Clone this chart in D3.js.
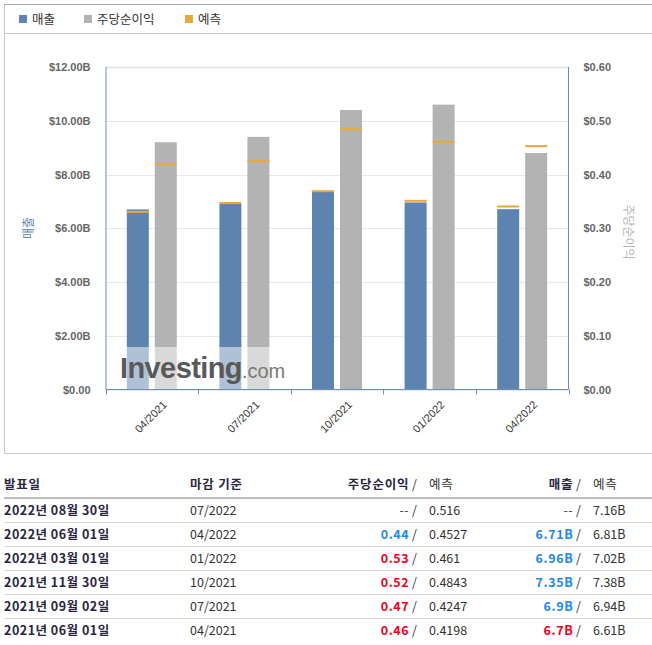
<!DOCTYPE html>
<html>
<head>
<meta charset="utf-8">
<script src="https://cdn.jsdelivr.net/npm/d3@7"></script>
<style>
  body { margin: 0; background: #fff; }
  svg { display: block; }
</style>
</head>
<body>
<svg id="chart" width="652" height="645"></svg>
<script>
// chart data (quarter end, revenue in $B, EPS in $)
var quarters = ["04/2021", "07/2021", "10/2021", "01/2022", "04/2022"];
var revenue = [6.7, 6.9, 7.35, 6.96, 6.71];
var revenueEst = [6.61, 6.94, 7.38, 7.02, 6.81];
var eps = [0.46, 0.47, 0.52, 0.53, 0.44];
var epsEst = [0.4198, 0.4247, 0.4843, 0.461, 0.4527];
var revTicks = [0, 2, 4, 6, 8, 10, 12];
var epsTicks = [0, 0.1, 0.2, 0.3, 0.4, 0.5, 0.6];

// table data
var releaseDates = ["2022년 08월 30일", "2022년 06월 01일", "2022년 03월 01일", "2021년 11월 30일", "2021년 09월 02일", "2021년 06월 01일"];
var periodEnds = ["07/2022", "04/2022", "01/2022", "10/2021", "07/2021", "04/2021"];
var epsActual = ["--", "0.44", "0.53", "0.52", "0.47", "0.46"];
var epsForecast = ["0.516", "0.4527", "0.461", "0.4843", "0.4247", "0.4198"];
var revActual = ["--", "6.71B", "6.96B", "7.35B", "6.9B", "6.7B"];
var revForecast = ["7.16B", "6.81B", "7.02B", "7.38B", "6.94B", "6.61B"];
var epsBeat = [null, false, true, true, true, true];
var revBeat = [null, false, false, false, false, true];

var BLUE = "#5d83af", GRAY = "#b3b3b3", ORANGE = "#e9a83a";
var korean = "'Noto Sans CJK KR', 'Noto Sans', sans-serif";
var latin = "'Liberation Sans', Arial, sans-serif";

var svg = d3.select("#chart");

// outer box + legend
svg.append("rect").attr("x", 4.5).attr("y", 4.5).attr("width", 660).attr("height", 449)
  .attr("fill", "none").attr("stroke", "#c8c8c8");
svg.append("line").attr("x1", 4).attr("x2", 652).attr("y1", 4.5).attr("y2", 4.5).attr("stroke", "#aaa");
svg.append("line").attr("x1", 4).attr("x2", 652).attr("y1", 33.5).attr("y2", 33.5).attr("stroke", "#c8c8c8");

var legendItems = [
  {label: "매출", color: BLUE, x: 19},
  {label: "주당순이익", color: GRAY, x: 84},
  {label: "예측", color: ORANGE, x: 185}
];
var lg = svg.append("g").selectAll("g").data(legendItems).join("g")
  .attr("transform", d => "translate(" + d.x + ",15)");
lg.append("rect").attr("width", 8).attr("height", 8).attr("fill", d => d.color);
lg.append("text").attr("x", 13).attr("y", 8.5).text(d => d.label)
  .attr("font-family", korean).attr("font-size", 12.5).attr("fill", "#333");

// plot area
var pLeft = 105.5, pRight = 568.5, pTop = 67, pBottom = 389.5;

var x0 = d3.scaleBand().domain(quarters).range([pLeft, pRight]);
var x1 = d3.scaleBand().domain(["rev", "eps"]).range([-25, 25]).paddingInner(6 / 28);
var yRev = d3.scaleLinear().domain([0, 12]).range([pBottom, pTop]);
var yEps = d3.scaleLinear().domain([0, 0.6]).range([pBottom, pTop]);

// gridlines
svg.append("g").selectAll("line").data(revTicks).join("line")
  .attr("x1", pLeft).attr("x2", pRight)
  .attr("y1", d => Math.round(yRev(d)) + 0.5).attr("y2", d => Math.round(yRev(d)) + 0.5)
  .attr("stroke", d => d === 12 ? "#e4e9f1" : "#e8e8ec")
  .attr("stroke-width", d => d === 12 ? 2 : 1);

var groups = svg.append("g").selectAll("g").data(quarters).join("g")
  .attr("transform", d => "translate(" + (x0(d) + x0.bandwidth() / 2) + ",0)");

groups.append("rect")
  .attr("x", x1("rev")).attr("width", x1.bandwidth())
  .attr("y", (d, i) => yRev(revenue[i])).attr("height", (d, i) => pBottom - yRev(revenue[i]))
  .attr("fill", BLUE);
groups.append("rect")
  .attr("x", x1("eps")).attr("width", x1.bandwidth())
  .attr("y", (d, i) => yEps(eps[i])).attr("height", (d, i) => pBottom - yEps(eps[i]))
  .attr("fill", GRAY);
groups.append("rect")
  .attr("x", x1("rev")).attr("width", x1.bandwidth())
  .attr("y", (d, i) => yRev(revenueEst[i]) - 1).attr("height", 2)
  .attr("fill", ORANGE);
groups.append("rect")
  .attr("x", x1("eps")).attr("width", x1.bandwidth())
  .attr("y", (d, i) => yEps(epsEst[i]) - 1).attr("height", 2)
  .attr("fill", ORANGE);

// watermark
svg.append("rect").attr("x", 118).attr("y", 347).attr("width", 168).attr("height", 42)
  .attr("fill", "#fff").attr("opacity", 0.5);
var wm = svg.append("text").attr("x", 120).attr("y", 378)
  .attr("font-family", latin).attr("font-size", 29);
wm.append("tspan").attr("font-weight", "bold").attr("fill", "#595959").attr("letter-spacing", -0.6).text("Investing");
wm.append("tspan").attr("fill", "#7a7a7a").attr("font-size", 20).attr("dx", 0).text(".com");

// axes
var axisColor = "#6e8fbd";
var yl = svg.append("g").attr("transform", "translate(" + pLeft + ",0)")
  .call(d3.axisLeft(yRev).tickValues(revTicks).tickSize(0).tickPadding(15)
    .tickFormat(d => "$" + d3.format(".2f")(d) + (d === 0 ? "" : "B")));
yl.select(".domain").attr("stroke", axisColor).attr("d", "M0.5," + pTop + "V" + pBottom);

var yr = svg.append("g").attr("transform", "translate(" + pRight + ",0)")
  .call(d3.axisRight(yEps).tickValues(epsTicks).tickSize(0).tickPadding(15)
    .tickFormat(d => "$" + d3.format(".2f")(d)));
yr.select(".domain").attr("stroke", axisColor).attr("d", "M0," + pTop + "V" + pBottom);

svg.selectAll(".tick text").attr("font-family", latin).attr("font-size", 11)
  .attr("fill", "#666").attr("font-weight", "bold");

var xa = svg.append("g").attr("transform", "translate(0," + pBottom + ")");
xa.append("path").attr("stroke", axisColor).attr("fill", "none").attr("d", "M" + pLeft + ",0H" + pRight);
var bounds = quarters.map(q => x0(q)).concat([pRight]);
xa.append("g").selectAll("line").data(bounds).join("line")
  .attr("x1", d => Math.round(d) + 0.5).attr("x2", d => Math.round(d) + 0.5)
  .attr("y1", 0).attr("y2", 5).attr("stroke", axisColor);
xa.append("g").selectAll("text").data(quarters).join("text")
  .attr("transform", d => "translate(" + (x0(d) + x0.bandwidth() / 2 + 10) + ",10) rotate(-45)")
  .attr("text-anchor", "end").attr("dy", "0.75em")
  .attr("font-family", latin).attr("font-size", 11).attr("fill", "#333")
  .text(d => d);

// axis titles
svg.append("text").attr("transform", "translate(33,228) rotate(-90)").attr("text-anchor", "middle")
  .attr("font-family", korean).attr("font-size", 12).attr("fill", BLUE).text("매출");
svg.append("text").attr("transform", "translate(624,232) rotate(90)").attr("text-anchor", "middle")
  .attr("font-family", korean).attr("font-size", 12).attr("fill", GRAY).text("주당순이익");

// table
var tbl = svg.append("g").attr("font-family", korean).attr("font-size", 12.5);
var headY = 489, dark = "#2a2540";
tbl.append("text").attr("x", 4).attr("y", headY).attr("font-weight", "bold").attr("fill", dark)
  .attr("letter-spacing", 0.8).text("발표일");
tbl.append("text").attr("x", 190).attr("y", headY).attr("font-weight", "bold").attr("fill", dark)
  .attr("letter-spacing", 0.8).text("마감 기준");
var h1 = tbl.append("text").attr("x", 417).attr("y", headY).attr("text-anchor", "end");
h1.append("tspan").attr("font-weight", "bold").attr("fill", dark).attr("letter-spacing", 0.8).text("주당순이익");
h1.append("tspan").attr("fill", "#333").text(" /");
tbl.append("text").attr("x", 429).attr("y", headY).attr("fill", "#333").attr("letter-spacing", 0.8).text("예측");
var h2 = tbl.append("text").attr("x", 581).attr("y", headY).attr("text-anchor", "end");
h2.append("tspan").attr("font-weight", "bold").attr("fill", dark).attr("letter-spacing", 0.8).text("매출");
h2.append("tspan").attr("fill", "#333").text(" /");
tbl.append("text").attr("x", 593).attr("y", headY).attr("fill", "#333").attr("letter-spacing", 0.8).text("예측");
tbl.append("rect").attr("x", 4).attr("y", 497).attr("width", 648).attr("height", 2).attr("fill", "#bdbdbd");

var rowH = 24, row0 = 510;
var rows = tbl.append("g").selectAll("g").data(releaseDates).join("g")
  .attr("transform", (d, i) => "translate(0," + (row0 + i * rowH) + ")");
rows.filter((d, i) => i < releaseDates.length - 1).append("rect")
  .attr("x", 4).attr("y", 12).attr("width", 648).attr("height", 1).attr("fill", "#d6d6d6");
rows.append("text").attr("x", 4).attr("y", 4.5).attr("font-weight", "bold").attr("fill", dark)
  .attr("letter-spacing", 0.5).text(d => d);
rows.append("text").attr("x", 190).attr("y", 4.5).attr("fill", "#333").text((d, i) => periodEnds[i]);

function beatColor(b) { return b === null ? "#444" : (b ? "#f0001c" : "#1e8ae8"); }
var e1 = rows.append("text").attr("x", 417).attr("y", 4.5).attr("text-anchor", "end");
e1.append("tspan").attr("font-weight", (d, i) => epsBeat[i] === null ? "normal" : "bold")
  .attr("letter-spacing", 0.6)
  .attr("fill", (d, i) => beatColor(epsBeat[i])).text((d, i) => epsActual[i]);
e1.append("tspan").attr("fill", "#333").text(" /");
rows.append("text").attr("x", 429).attr("y", 4.5).attr("fill", "#333").text((d, i) => epsForecast[i]);
var r1 = rows.append("text").attr("x", 581).attr("y", 4.5).attr("text-anchor", "end");
r1.append("tspan").attr("font-weight", (d, i) => revBeat[i] === null ? "normal" : "bold")
  .attr("letter-spacing", 0.6)
  .attr("fill", (d, i) => beatColor(revBeat[i])).text((d, i) => revActual[i]);
r1.append("tspan").attr("fill", "#333").text(" /");
rows.append("text").attr("x", 593).attr("y", 4.5).attr("fill", "#333").text((d, i) => revForecast[i]);
</script>
</body>
</html>
